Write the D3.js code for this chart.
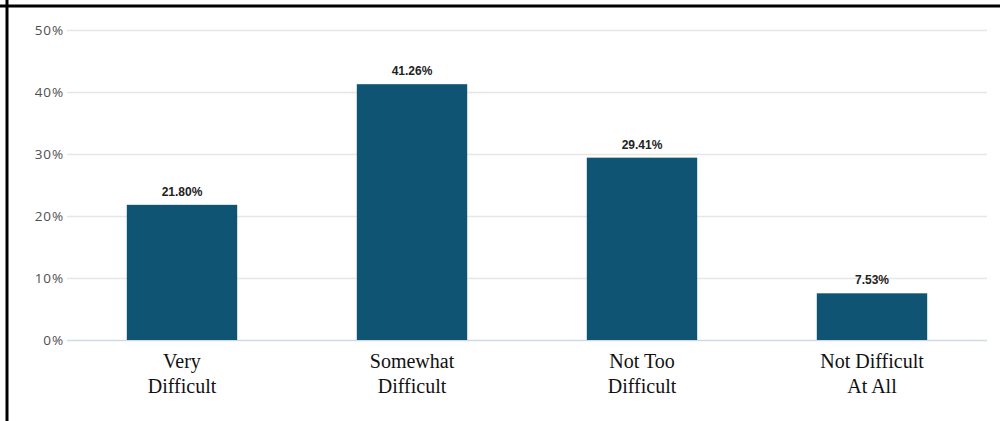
<!DOCTYPE html>
<html>
<head>
<meta charset="utf-8">
<script src="https://cdn.jsdelivr.net/npm/d3@7"></script>
<style>
  html, body { margin: 0; padding: 0; background: #fff; }
  svg { display: block; }
</style>
</head>
<body>
<svg id="chart" width="1000" height="421"></svg>
<script>
// Survey responses: how difficult it is, share of respondents
const categories = [["Very", "Difficult"], ["Somewhat", "Difficult"], ["Not Too", "Difficult"], ["Not Difficult", "At All"]];
const values = [21.80, 41.26, 29.41, 7.53];
const yTicks = [0, 10, 20, 30, 40, 50];

const svg = d3.select("#chart");
const W = 1000, H = 421;
const margin = { top: 30, right: 13, bottom: 81, left: 67 };

// Frame lines on top and left edges
svg.append("line").attr("x1", 0).attr("x2", W).attr("y1", 6).attr("y2", 6)
  .attr("stroke", "#000").attr("stroke-width", 3);
svg.append("line").attr("x1", 7).attr("x2", 7).attr("y1", 0).attr("y2", H)
  .attr("stroke", "#000").attr("stroke-width", 3);

const x = d3.scaleBand()
  .domain(categories.map((d, i) => i))
  .range([margin.left, W - margin.right])
  .paddingInner(0.52)
  .paddingOuter(0.26);

const y = d3.scaleLinear()
  .domain([0, 50])
  .range([H - margin.bottom, margin.top]);

// Horizontal gridlines with percentage labels
const yAxis = d3.axisLeft(y)
  .tickValues(yTicks)
  .tickFormat(d => d + "%")
  .tickSize(-(W - margin.left - margin.right))
  .tickPadding(3);

const gy = svg.append("g")
  .attr("transform", `translate(${margin.left},0)`)
  .call(yAxis);
gy.select(".domain").remove();
gy.selectAll(".tick line")
  .attr("stroke", d => d === 0 ? "#cfd9ea" : "#e6e6e6")
  .attr("stroke-width", 1.6);
gy.selectAll(".tick text")
  .attr("fill", "#505050")
  .attr("font-family", "'Open Sans', sans-serif")
  .attr("font-size", 13.5)
  .attr("letter-spacing", "0.9px");

// Bars
svg.append("g").selectAll("rect")
  .data(values)
  .join("rect")
  .attr("x", (d, i) => x(i))
  .attr("width", x.bandwidth())
  .attr("y", d => y(d))
  .attr("height", d => y(0) - y(d))
  .attr("fill", "#0f5573");

// Value labels above bars
svg.append("g").selectAll("text")
  .data(values)
  .join("text")
  .attr("x", (d, i) => x(i) + x.bandwidth() / 2)
  .attr("y", d => y(d) - 9)
  .attr("text-anchor", "middle")
  .attr("font-family", "'Liberation Sans', Arial, sans-serif")
  .attr("font-weight", "bold")
  .attr("font-size", 12)
  .attr("fill", "#222")
  .text(d => d.toFixed(2) + "%");

// Category labels in two lines
const xl = svg.append("g").selectAll("text")
  .data(categories)
  .join("text")
  .attr("x", (d, i) => x(i) + x.bandwidth() / 2)
  .attr("y", y(0) + 28)
  .attr("text-anchor", "middle")
  .attr("font-family", "'Liberation Serif', 'Times New Roman', serif")
  .attr("font-size", 20)
  .attr("fill", "#111");
xl.selectAll("tspan")
  .data(d => d)
  .join("tspan")
  .attr("x", function() { return d3.select(this.parentNode).attr("x"); })
  .attr("dy", (d, i) => i === 0 ? 0 : 25)
  .text(d => d);
</script>
</body>
</html>
